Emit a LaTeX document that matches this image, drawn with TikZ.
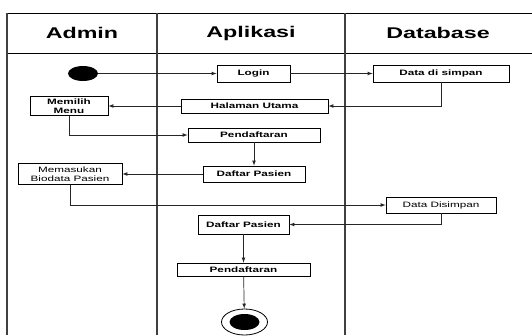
\documentclass[tikz,border=0pt]{standalone}
\usepackage{fontspec}
\newfontfamily\diagfont[FakeStretch=1.5]{Liberation Sans}
\usepackage{tikz}
\usetikzlibrary{shapes.geometric}
\usetikzlibrary{arrows}

\tikzset{
  lane/.style = {line width = 1.3pt, color = black!75},
  act/.style = {draw, line width = 0.8pt, inner sep = 0pt, align = center,
    font = \diagfont\fontsize{7.8}{8.5}\selectfont\bfseries},
  actplain/.style = {act, font = \diagfont\fontsize{7.8}{8.5}\selectfont},
  flow/.style = {-latex, line width = 0.7pt, color = black!85}
}

\begin{document}
\begin{tikzpicture}[x = 1pt, y = -1pt]
\useasboundingbox (0, 0) rectangle (532, 335);

% swimlanes
\draw [line width = 0.8pt] (7, 13) -- (532, 13);
\draw [line width = 0.8pt] (7, 53) -- (532, 53);
\draw [lane] (7, 13) -- (7, 335);
\draw [lane] (157, 13) -- (157, 335);
\draw [lane] (345, 13) -- (345, 335);

\node (admin) at (82, 33) {\diagfont\fontsize{15.5}{16}\selectfont\bfseries Admin};
\node (aplikasi) at (251, 33) {\diagfont\fontsize{15.5}{16}\selectfont\bfseries Aplikasi};
\node (database) at (438, 33) {\diagfont\fontsize{15.5}{16}\selectfont\bfseries Database};

% activities
\node [ellipse, fill = black, minimum width = 30pt, minimum height = 15pt, inner sep = 0pt]
    (start) at (83, 73.5) {};
\node [act, minimum width = 73pt, minimum height = 17pt] (login) at (253.5, 73.5) {Login};
\node [act, minimum width = 136pt, minimum height = 17pt] (simpan1) at (441, 73.5) {Data di simpan};
\node [act, minimum width = 147pt, minimum height = 14pt] (utama) at (254.5, 106) {Halaman Utama};
\node [act, minimum width = 78pt, minimum height = 19pt] (menu) at (69, 106) {Memilih\\Menu};
\node [act, minimum width = 132pt, minimum height = 14pt] (daftar1) at (254, 135) {Pendaftaran};
\node [act, minimum width = 102pt, minimum height = 16pt] (pasien1) at (254, 174) {Daftar Pasien};
\node [actplain, minimum width = 104pt, minimum height = 21pt] (biodata) at (70, 174) {Memasukan\\Biodata Pasien};
\node [actplain, minimum width = 110pt, minimum height = 16pt] (simpan2) at (441, 205) {Data Disimpan};
\node [act, minimum width = 91pt, minimum height = 19pt] (pasien2) at (243.5, 224.5) {Daftar Pasien};
\node [act, minimum width = 133pt, minimum height = 13pt] (daftar2) at (243.5, 269.5) {Pendaftaran};
\node [ellipse, draw, line width = 0.8pt, minimum width = 46pt, minimum height = 26pt, inner sep = 0pt]
    (finish) at (244.5, 322) {};
\node [ellipse, fill = black, minimum width = 30pt, minimum height = 16pt, inner sep = 0pt]
    (finishdot) at (244.5, 322) {};

% flows
\draw [flow] (start) -- (login);
\draw [flow] (login) -- (simpan1);
\draw [flow] (simpan1.south) |- (utama.east);
\draw [flow] (utama) -- (menu);
\draw [flow] (menu.south) |- (daftar1.west);
\draw [flow] (daftar1) -- (pasien1);
\draw [flow] (pasien1) -- (biodata);
\draw [flow] (biodata.south) |- (simpan2.west);
\draw [flow] (simpan2.south) |- (pasien2.east);
\draw [flow] (pasien2) -- (daftar2);
\draw [flow] (daftar2) -- (finish);
\end{tikzpicture}
\end{document}
